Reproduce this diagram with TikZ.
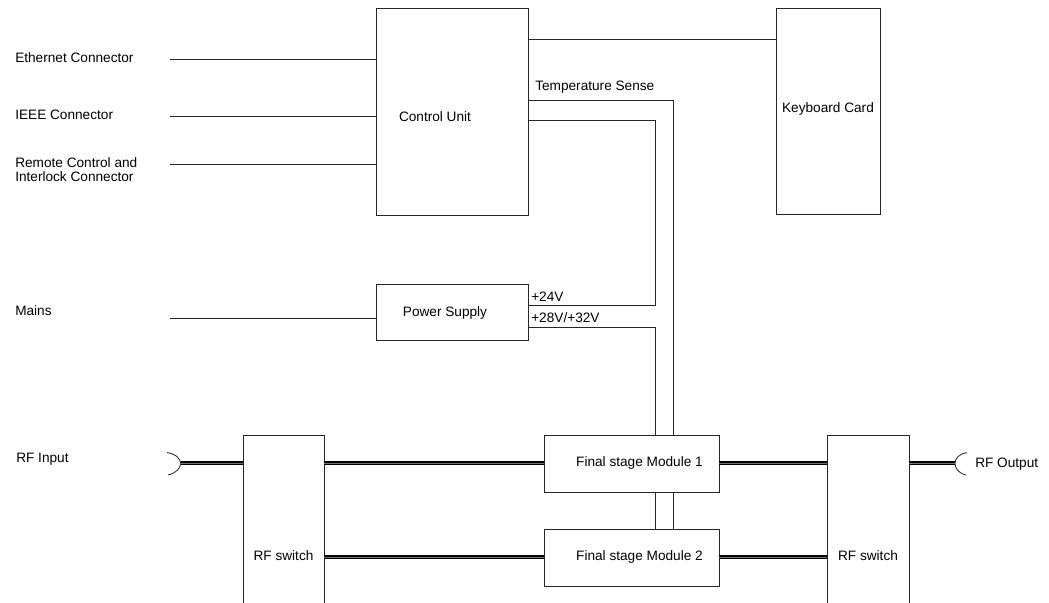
\documentclass[tikz,border=0pt]{standalone}
\usepackage{fontspec}
\setmainfont{Liberation Sans}
\usepackage{tikz}
\usetikzlibrary{positioning, arrows.meta}

\tikzset{
  box/.style={draw=black!85, line width=0.6pt, fill=white, inner sep=0pt},
  wire/.style={draw=black!85, line width=0.6pt},
  coax/.style={line width=1.2pt, double=black!55, double distance=0.45pt},
  txt/.style={inner sep=0pt, anchor=west, align=left}
}

\begin{document}
\begin{tikzpicture}[font=\fontsize{9.7}{10}\selectfont]
\useasboundingbox (0,0) rectangle (26.225,15.075);
\clip (0,0) rectangle (26.225,15.075);

% boxes
\node[box, minimum width=3.8cm, minimum height=5.175cm] (cu) at (11.3,12.2875) {};
\node[inner sep=0pt] (cu-txt) at (10.875,12.15) {Control Unit};
\node[box, minimum width=2.6cm, minimum height=5.15cm] (kb) at (20.7,12.3) {};
\node[inner sep=0pt] (kb-txt) at (20.7,12.35) {Keyboard Card};
\node[box, minimum width=3.8cm, minimum height=1.4cm] (ps) at (11.3,7.275) {};
\node[inner sep=0pt] (ps-txt) at (11.125,7.25) {Power Supply};
\node[box, minimum width=4.375cm, minimum height=1.425cm] (fs1) at (15.7875,3.4875) {};
\node[inner sep=0pt] (fs1-txt) at (15.9875,3.5) {Final stage Module 1};
\node[box, minimum width=4.375cm, minimum height=1.425cm] (fs2) at (15.7875,1.1375) {};
\node[inner sep=0pt] (fs2-txt) at (15.9875,1.15) {Final stage Module 2};
\node[box, minimum width=2.025cm, minimum height=4.625cm] (swl) at (7.0875,1.8875) {};
\node[inner sep=0pt] (swl-txt) at (7.0875,1.175) {RF switch};
\node[box, minimum width=2.05cm, minimum height=4.625cm] (swr) at (21.7,1.8875) {};
\node[inner sep=0pt] (swr-txt) at (21.7,1.175) {RF switch};

% connectors to the control unit
\foreach \n/\y/\ly/\descr in {eth/13.6/13.64/Ethernet Connector,
  ieee/12.175/12.2/IEEE Connector,
  rem/10.975/10.825/{Remote Control and\\Interlock Connector}}
{
\node[txt] (\n-lbl) at (0.375,\ly) {\descr};
\coordinate (\n) at (4.25,\y);
\draw[wire] (\n) -- (\n -| cu.west);
}
\coordinate (kbl) at (13.2,14.1);
\draw[wire] (kbl -| cu.east) -- (kbl -| kb.west);

% mains
\node[txt] (mains-lbl) at (0.375,7.3) {Mains};
\coordinate (mains) at (4.25,7.125);
\draw[wire] (mains) -- (mains -| ps.west);

% temperature sense and supply lines
\coordinate (ts) at (16.825,12.5575);
\draw[wire] (ts -| cu.east) -- (ts) -- (ts |- fs1.north);
\node[txt] (ts-lbl) at (13.375,12.9) {Temperature Sense};
\coordinate (cu24) at (16.375,12.0575);
\coordinate (v24) at (16.375,7.45);
\draw[wire] (cu24 -| cu.east) -- (cu24) -- (v24) -- (v24 -| ps.east);
\node[txt] (v24-lbl) at (13.275,7.65) {+24V};
\coordinate (v28) at (16.375,6.9);
\draw[wire] (v28 -| ps.east) -- (v28) -- (v28 |- fs1.north);
\node[txt] (v28-lbl) at (13.275,7.125) {+28V/+32V};
\foreach \c in {ts,v28}
\draw[wire] (fs1.south -| \c) -- (fs2.north -| \c);

% rf path
\coordinate (rfin) at (4.52,3.4875);
\coordinate (rfout) at (23.875,3.4875);
\draw[wire] (4.18,3.76) .. controls (4.42,3.72) and (4.5,3.6) .. (rfin)
  .. controls (4.5,3.37) and (4.42,3.25) .. (4.2,3.2);
\draw[wire] (24.17,3.76) .. controls (23.95,3.72) and (23.88,3.6) .. (rfout)
  .. controls (23.88,3.37) and (23.95,3.25) .. (24.15,3.2);
\draw[coax] (rfin) -- (rfin -| swl.west);
\draw[coax] (rfout) -- (rfout -| swr.east);
\foreach \m in {fs1,fs2}
{
\draw[coax] (\m.west -| swl.east) -- (\m.west);
\draw[coax] (\m.east) -- (\m.east -| swr.west);
}
\node[txt] (rfin-lbl) at (0.4,3.6) {RF Input};
\node[txt] (rfout-lbl) at (24.375,3.475) {RF Output};
\end{tikzpicture}
\end{document}
